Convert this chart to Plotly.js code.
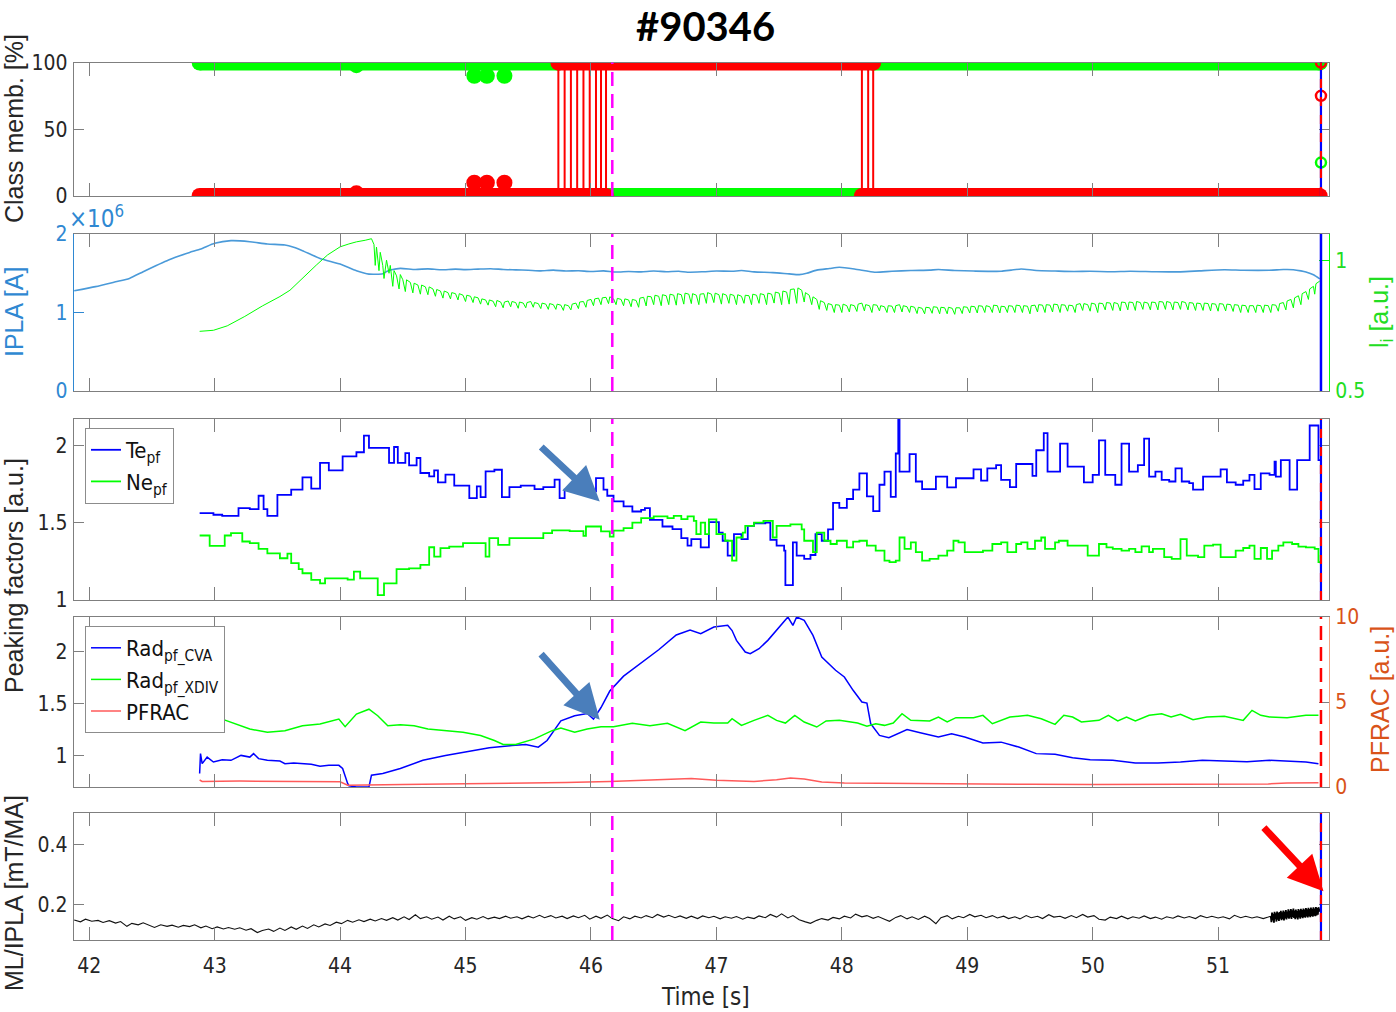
<!DOCTYPE html>
<html>
<head>
<meta charset="utf-8">
<script src="https://cdn.plot.ly/plotly-3.0.1.min.js"></script>
<style>
  html, body { margin: 0; padding: 0; background: #ffffff; }
  #chart { width: 1396px; height: 1012px; }
</style>
</head>
<body>
<div id="chart"></div>
<script>
// ---------------- Shot #90346 : time traces ----------------
const timeTicks = [42, 43, 44, 45, 46, 47, 48, 49, 50, 51];
const timeTickText = ['42', '43', '44', '45', '46', '47', '48', '49', '50', '51'];
const timeRange = [41.876, 51.884];
const markTime = 46.17;      // magenta dashed marker
const endTime = 51.82;       // end of the analysed window

// Class membership [%]: band segments (start, end, level)
const greenSegments = [[42.88, 45.74, 100], [46.12, 48.16, 0], [48.25, 51.81, 100]];
const redSegments = [[42.88, 46.12, 0], [45.74, 48.25, 100], [48.16, 51.81, 0]];
const greenBlobs = [[44.13, 98], [45.07, 90], [45.17, 90], [45.31, 90]];
const redBlobs = [[44.13, 2], [45.07, 10], [45.17, 10], [45.31, 10]];
const redSwitchTimes = [45.74, 45.79, 45.84, 45.89, 45.94, 45.99, 46.04, 46.08, 46.12, 48.16, 48.21, 48.25, 51.82];
const redEndPoints = [[51.82, 100], [51.82, 75]];
const greenEndPoints = [[51.82, 25]];

// Plasma current IPLA [A]
const iplaPts = [[41.88,1.277e6],[42.05,1.33e6],[42.21,1.391e6],[42.32,1.434e6],[42.43,1.52e6],[42.53,1.596e6],[42.62,1.66e6],[42.71,1.715e6],[42.80,1.765e6],[42.89,1.809e6],[43.00,1.881e6],[43.13,1.915e6],[43.28,1.902e6],[43.42,1.872e6],[43.56,1.860e6],[43.63,1.83e6],[43.70,1.787e6],[43.84,1.689e6],[44.00,1.617e6],[44.13,1.532e6],[44.23,1.489e6],[44.34,1.494e6],[44.38,1.53e6],[44.41,1.545e6],[44.48,1.562e6],[44.60,1.548e6],[44.70,1.556e6],[44.80,1.545e6],[44.92,1.552e6],[45.00,1.546e6],[45.10,1.553e6],[45.20,1.558e6],[45.30,1.548e6],[45.40,1.543e6],[45.50,1.538e6],[45.60,1.530e6],[45.70,1.540e6],[45.80,1.528e6],[45.90,1.532e6],[46.00,1.522e6],[46.10,1.530e6],[46.20,1.515e6],[46.30,1.522e6],[46.40,1.518e6],[46.50,1.528e6],[46.60,1.520e6],[46.70,1.525e6],[46.77,1.513e6],[46.90,1.520e6],[47.00,1.528e6],[47.125,1.525e6],[47.20,1.535e6],[47.30,1.518e6],[47.45,1.508e6],[47.58,1.492e6],[47.66,1.483e6],[47.72,1.500e6],[47.80,1.540e6],[47.90,1.560e6],[47.98,1.576e6],[48.10,1.555e6],[48.20,1.528e6],[48.27,1.513e6],[48.40,1.525e6],[48.55,1.535e6],[48.70,1.540e6],[48.77,1.547e6],[48.90,1.535e6],[49.05,1.528e6],[49.27,1.525e6],[49.35,1.540e6],[49.43,1.555e6],[49.55,1.535e6],[49.70,1.528e6],[49.85,1.522e6],[49.98,1.525e6],[50.15,1.520e6],[50.30,1.526e6],[50.50,1.520e6],[50.70,1.518e6],[50.85,1.530e6],[51.05,1.545e6],[51.20,1.538e6],[51.41,1.538e6],[51.52,1.547e6],[51.60,1.545e6],[51.66,1.530e6],[51.70,1.515e6],[51.76,1.48e6],[51.81,1.428e6]];

// Internal inductance li [a.u.]
const liPts = [[42.88,.728],[42.99,.732],[43.10,.749],[43.24,.785],[43.38,.825],[43.52,.861],[43.60,.885],[43.67,.918],[43.74,.95],[43.81,.981],[43.90,1.02],[44.00,1.051],[44.07,1.062],[44.13,1.07],[44.20,1.076],[44.25,1.082],
[44.27,1.06],[44.28,0.98],[44.29,1.05],[44.31,0.96],[44.32,1.03],[44.34,0.98],[44.35,0.93],[44.37,1.00],[44.39,0.95],[44.40,0.98],[44.42,0.90],[44.43,0.96],[44.45,0.94],[44.47,0.89],[44.48,0.945],[44.50,0.925],[44.52,0.88],[44.53,0.925],[44.56,0.915],[44.58,0.875],[44.59,0.912],[44.62,0.905],[44.64,0.87],[44.65,0.905],[44.68,0.898],[44.70,0.868],[44.71,0.898],[44.74,0.89],[44.76,0.862],[44.77,0.888],[44.80,0.882],[44.82,0.855],[44.83,0.882],[44.86,0.876],[44.88,0.852],[44.89,0.876],[44.92,0.872],[44.94,0.848],[44.95,0.872],[44.98,0.866],[45.00,0.842],[45.01,0.866],[45.04,0.862],[45.06,0.838],[45.07,0.860],[45.10,0.856],[45.12,0.832],[45.13,0.852],[45.16,0.848],[45.18,0.828],[45.19,0.848],[45.22,0.843],[45.24,0.822],[45.25,0.846],[45.28,0.840],[45.30,0.818],[45.31,0.840],[45.34,0.844],[45.36,0.822],[45.37,0.842],[45.40,0.838],[45.42,0.816],[45.43,0.840],[45.46,0.836],[45.48,0.818],[45.49,0.838],[45.52,0.842],[45.54,0.820],[45.55,0.838],[45.58,0.834],[45.60,0.815],[45.61,0.836],[45.64,0.832],[45.66,0.812],[45.67,0.834],[45.70,0.830],[45.72,0.812],[45.73,0.832],[45.76,0.828],[45.78,0.808],[45.79,0.83],[45.82,0.826],[45.84,0.81],[45.85,0.832],[45.88,0.836],[45.90,0.815],[45.91,0.84],[45.94,0.842],[45.96,0.82],[45.97,0.846],[46.00,0.85],[46.02,0.826],[46.03,0.852],[46.06,0.855],[46.08,0.83],[46.09,0.856],[46.12,0.858],[46.14,0.834],[46.15,0.86],[46.18,0.852],[46.20,0.83],[46.21,0.854],[46.24,0.85],[46.26,0.826],[46.27,0.852],[46.30,0.848],[46.32,0.822],[46.33,0.85],[46.36,0.846],[46.38,0.82],[46.39,0.855],[46.42,0.858],[46.44,0.825],[46.45,0.862],[46.48,0.86],[46.50,0.83],[46.51,0.866],[46.54,0.862],[46.56,0.826],[46.57,0.868],[46.60,0.864],[46.62,0.83],[46.63,0.87],[46.66,0.866],[46.68,0.828],[46.69,0.872],[46.72,0.868],[46.74,0.832],[46.75,0.874],[46.78,0.87],[46.80,0.834],[46.81,0.872],[46.84,0.866],[46.86,0.83],[46.87,0.87],[46.90,0.872],[46.92,0.835],[46.93,0.876],[46.96,0.87],[46.98,0.838],[46.99,0.874],[47.02,0.868],[47.04,0.832],[47.05,0.872],[47.08,0.866],[47.10,0.835],[47.11,0.87],[47.14,0.865],[47.16,0.83],[47.17,0.868],[47.20,0.862],[47.22,0.835],[47.23,0.866],[47.26,0.864],[47.28,0.83],[47.29,0.87],[47.32,0.866],[47.34,0.835],[47.35,0.872],[47.38,0.868],[47.40,0.83],[47.41,0.874],[47.44,0.87],[47.46,0.836],[47.47,0.878],[47.50,0.874],[47.52,0.83],[47.53,0.882],[47.56,0.878],[47.58,0.832],[47.59,0.888],[47.62,0.89],[47.64,0.835],[47.65,0.894],[47.68,0.885],[47.70,0.84],[47.71,0.876],[47.74,0.866],[47.76,0.83],[47.77,0.86],[47.80,0.85],[47.82,0.812],[47.83,0.845],[47.86,0.838],[47.88,0.808],[47.89,0.834],[47.92,0.83],[47.94,0.80],[47.95,0.83],[47.98,0.828],[48.00,0.80],[48.01,0.832],[48.04,0.826],[48.06,0.802],[48.07,0.83],[48.10,0.826],[48.12,0.804],[48.13,0.832],[48.16,0.836],[48.18,0.806],[48.19,0.83],[48.22,0.826],[48.24,0.80],[48.25,0.83],[48.28,0.828],[48.30,0.806],[48.31,0.826],[48.34,0.822],[48.36,0.80],[48.37,0.826],[48.40,0.824],[48.42,0.80],[48.43,0.826],[48.46,0.83],[48.48,0.802],[48.49,0.826],[48.52,0.822],[48.54,0.80],[48.55,0.824],[48.58,0.82],[48.60,0.796],[48.61,0.82],[48.64,0.816],[48.66,0.795],[48.67,0.82],[48.70,0.818],[48.72,0.797],[48.73,0.822],[48.76,0.82],[48.78,0.795],[48.79,0.82],[48.82,0.818],[48.84,0.795],[48.85,0.82],[48.88,0.816],[48.90,0.793],[48.91,0.818],[48.94,0.818],[48.96,0.796],[48.97,0.822],[49.00,0.82],[49.02,0.798],[49.03,0.824],[49.06,0.822],[49.08,0.798],[49.09,0.826],[49.12,0.824],[49.14,0.80],[49.15,0.826],[49.18,0.822],[49.20,0.80],[49.21,0.828],[49.24,0.826],[49.26,0.798],[49.27,0.824],[49.30,0.822],[49.32,0.80],[49.33,0.826],[49.36,0.824],[49.38,0.80],[49.39,0.828],[49.42,0.826],[49.44,0.80],[49.45,0.826],[49.48,0.824],[49.50,0.795],[49.51,0.826],[49.54,0.828],[49.56,0.802],[49.57,0.83],[49.60,0.828],[49.62,0.80],[49.63,0.83],[49.66,0.828],[49.68,0.802],[49.69,0.832],[49.72,0.83],[49.74,0.80],[49.75,0.83],[49.78,0.828],[49.80,0.805],[49.81,0.828],[49.84,0.826],[49.86,0.80],[49.87,0.83],[49.90,0.834],[49.92,0.808],[49.93,0.834],[49.96,0.83],[49.98,0.805],[49.99,0.836],[50.02,0.832],[50.04,0.80],[50.05,0.836],[50.08,0.834],[50.10,0.81],[50.11,0.838],[50.14,0.836],[50.16,0.808],[50.17,0.838],[50.20,0.834],[50.22,0.806],[50.23,0.84],[50.26,0.838],[50.28,0.81],[50.29,0.84],[50.32,0.838],[50.34,0.808],[50.35,0.842],[50.38,0.838],[50.40,0.812],[50.41,0.84],[50.44,0.836],[50.46,0.81],[50.47,0.84],[50.50,0.838],[50.52,0.81],[50.53,0.842],[50.56,0.84],[50.58,0.812],[50.59,0.842],[50.62,0.838],[50.64,0.81],[50.65,0.84],[50.68,0.838],[50.70,0.812],[50.71,0.842],[50.74,0.838],[50.76,0.81],[50.77,0.838],[50.80,0.836],[50.82,0.808],[50.83,0.836],[50.86,0.834],[50.88,0.808],[50.89,0.836],[50.92,0.834],[50.94,0.806],[50.95,0.834],[50.98,0.832],[51.00,0.805],[51.01,0.834],[51.04,0.832],[51.06,0.806],[51.07,0.832],[51.10,0.83],[51.12,0.804],[51.13,0.83],[51.16,0.828],[51.18,0.80],[51.19,0.828],[51.22,0.826],[51.24,0.80],[51.25,0.826],[51.28,0.826],[51.30,0.80],[51.31,0.828],[51.34,0.826],[51.36,0.80],[51.37,0.828],[51.40,0.826],[51.42,0.80],[51.43,0.83],[51.46,0.828],[51.48,0.805],[51.49,0.834],[51.52,0.838],[51.54,0.81],[51.55,0.844],[51.58,0.85],[51.60,0.818],[51.61,0.856],[51.64,0.864],[51.66,0.83],[51.67,0.872],[51.70,0.88],[51.72,0.85],[51.73,0.89],[51.76,0.90],[51.77,0.87],[51.78,0.91],[51.80,0.918],[51.81,0.92]];

// Peaking factors: electron temperature and density
const tePts = [[42.88,1.562],[42.99,1.551],[43.06,1.544],[43.19,1.594],[43.28,1.587],[43.35,1.674],[43.39,1.587],[43.42,1.544],[43.50,1.680],[43.61,1.713],[43.70,1.793],[43.77,1.720],[43.84,1.886],[43.91,1.838],[44.02,1.929],[44.13,1.955],[44.19,2.063],[44.23,1.983],[44.39,1.886],[44.43,1.989],[44.46,1.886],[44.52,1.950],[44.55,1.870],[44.61,1.918],[44.64,1.821],[44.71,1.799],[44.75,1.838],[44.78,1.760],[44.84,1.810],[44.91,1.739],[45.03,1.659],[45.09,1.734],[45.12,1.665],[45.16,1.832],[45.23,1.842],[45.29,1.665],[45.35,1.730],[45.44,1.739],[45.55,1.717],[45.62,1.730],[45.71,1.778],[45.75,1.659],[45.79,1.713],[45.90,1.710],[45.97,1.702],[46.04,1.788],[46.10,1.713],[46.13,1.674],[46.18,1.637],[46.26,1.605],[46.33,1.572],[46.40,1.583],[46.43,1.594],[46.47,1.518],[46.57,1.475],[46.65,1.458],[46.72,1.400],[46.77,1.351],[46.80,1.394],[46.875,1.340],[46.94,1.504],[47.02,1.436],[47.05,1.383],[47.09,1.287],[47.14,1.426],[47.20,1.394],[47.25,1.479],[47.30,1.496],[47.39,1.500],[47.43,1.389],[47.48,1.351],[47.54,1.319],[47.55,1.096],[47.61,1.372],[47.64,1.287],[47.70,1.266],[47.75,1.291],[47.79,1.426],[47.84,1.383],[47.89,1.457],[47.93,1.628],[47.98,1.596],[48.04,1.653],[48.09,1.713],[48.14,1.819],[48.20,1.670],[48.25,1.574],[48.30,1.745],[48.34,1.830],[48.39,1.666],[48.43,1.947],[48.45,2.170],[48.46,1.830],[48.54,1.943],[48.59,1.766],[48.64,1.717],[48.75,1.798],[48.84,1.728],[48.91,1.787],[49.05,1.845],[49.11,1.772],[49.16,1.851],[49.23,1.872],[49.27,1.777],[49.34,1.730],[49.39,1.879],[49.52,1.802],[49.55,1.968],[49.61,2.079],[49.64,1.830],[49.74,2.011],[49.80,1.862],[49.93,1.760],[50.00,1.809],[50.05,2.032],[50.10,1.809],[50.18,1.745],[50.23,2.011],[50.29,1.830],[50.36,1.872],[50.41,2.043],[50.45,1.798],[50.50,1.830],[50.55,1.777],[50.61,1.766],[50.66,1.851],[50.71,1.766],[50.77,1.755],[50.80,1.713],[50.88,1.798],[51.02,1.845],[51.07,1.760],[51.14,1.745],[51.20,1.772],[51.25,1.809],[51.29,1.717],[51.34,1.819],[51.41,1.809],[51.45,1.894],[51.46,1.798],[51.50,1.904],[51.57,1.713],[51.63,1.904],[51.73,2.128],[51.80,1.904],[51.82,1.904]];

const nePts = [[42.88,1.417],[42.96,1.350],[43.08,1.417],[43.13,1.432],[43.22,1.378],[43.28,1.367],[43.35,1.330],[43.42,1.302],[43.52,1.270],[43.58,1.300],[43.61,1.238],[43.67,1.200],[43.70,1.173],[43.77,1.130],[43.84,1.108],[43.88,1.140],[44.06,1.132],[44.11,1.184],[44.16,1.140],[44.30,1.032],[44.35,1.108],[44.45,1.199],[44.55,1.205],[44.64,1.227],[44.71,1.341],[44.75,1.281],[44.80,1.335],[44.87,1.345],[44.98,1.367],[45.16,1.281],[45.19,1.400],[45.26,1.356],[45.35,1.400],[45.62,1.432],[45.69,1.450],[45.83,1.445],[45.94,1.415],[45.96,1.475],[46.08,1.443],[46.15,1.410],[46.18,1.449],[46.26,1.464],[46.33,1.500],[46.40,1.529],[46.50,1.540],[46.61,1.529],[46.66,1.544],[46.72,1.523],[46.77,1.540],[46.82,1.511],[46.84,1.426],[46.875,1.500],[46.91,1.426],[46.94,1.521],[47.00,1.426],[47.07,1.383],[47.125,1.255],[47.16,1.404],[47.21,1.436],[47.23,1.479],[47.30,1.500],[47.375,1.511],[47.45,1.404],[47.48,1.479],[47.59,1.489],[47.68,1.457],[47.70,1.383],[47.77,1.309],[47.80,1.436],[47.86,1.383],[47.91,1.362],[47.96,1.383],[48.04,1.340],[48.09,1.377],[48.14,1.383],[48.20,1.351],[48.27,1.319],[48.34,1.255],[48.38,1.245],[48.43,1.255],[48.46,1.404],[48.50,1.330],[48.55,1.372],[48.59,1.309],[48.64,1.255],[48.70,1.266],[48.77,1.287],[48.84,1.319],[48.89,1.383],[48.93,1.372],[48.98,1.309],[49.125,1.319],[49.20,1.362],[49.27,1.372],[49.32,1.309],[49.39,1.362],[49.43,1.372],[49.48,1.330],[49.54,1.383],[49.59,1.404],[49.62,1.330],[49.70,1.372],[49.73,1.383],[49.80,1.351],[49.96,1.287],[50.05,1.362],[50.11,1.340],[50.16,1.330],[50.23,1.319],[50.29,1.330],[50.34,1.309],[50.39,1.347],[50.45,1.309],[50.48,1.330],[50.57,1.277],[50.63,1.266],[50.70,1.394],[50.75,1.287],[50.84,1.277],[50.89,1.351],[50.96,1.358],[51.02,1.277],[51.14,1.319],[51.20,1.336],[51.25,1.351],[51.29,1.266],[51.34,1.336],[51.39,1.266],[51.43,1.319],[51.48,1.351],[51.52,1.372],[51.59,1.362],[51.64,1.345],[51.70,1.340],[51.77,1.330],[51.80,1.245],[51.82,1.245]];

// Radiation peaking factors and radiated power fraction
const radCvaPts = [[42.88,0.829],[42.887,1.02],[42.90,0.924],[42.94,0.987],[42.99,0.94],[43.06,0.962],[43.13,0.956],[43.21,1.003],[43.28,0.987],[43.31,1.02],[43.35,0.972],[43.42,0.956],[43.52,0.949],[43.56,0.924],[43.63,0.930],[43.70,0.924],[43.77,0.918],[43.84,0.899],[43.91,0.908],[43.99,0.908],[44.02,0.877],[44.06,0.734],[44.07,0.712],[44.13,0.70],[44.23,0.70],[44.25,0.813],[44.34,0.829],[44.48,0.877],[44.66,0.956],[44.84,1.003],[45.01,1.035],[45.19,1.076],[45.37,1.098],[45.48,1.108],[45.58,1.082],[45.65,1.146],[45.76,1.335],[45.87,1.383],[45.97,1.405],[46.02,1.351],[46.08,1.462],[46.15,1.62],[46.26,1.763],[46.40,1.889],[46.54,2.016],[46.68,2.158],[46.79,2.206],[46.875,2.17],[46.98,2.234],[47.09,2.25],[47.125,2.20],[47.16,2.106],[47.23,1.994],[47.27,1.978],[47.34,2.026],[47.41,2.106],[47.48,2.20],[47.54,2.28],[47.57,2.33],[47.61,2.25],[47.64,2.33],[47.70,2.298],[47.77,2.154],[47.84,1.946],[47.95,1.819],[48.02,1.755],[48.09,1.627],[48.16,1.515],[48.20,1.505],[48.23,1.307],[48.30,1.195],[48.375,1.173],[48.45,1.211],[48.52,1.25],[48.625,1.22],[48.77,1.179],[48.875,1.211],[48.98,1.179],[49.125,1.122],[49.27,1.13],[49.41,1.083],[49.55,1.02],[49.70,1.013],[49.84,0.981],[49.98,0.962],[50.16,0.956],[50.34,0.93],[50.52,0.93],[50.70,0.94],[50.875,0.956],[51.05,0.95],[51.23,0.943],[51.41,0.956],[51.59,0.95],[51.70,0.94],[51.80,0.924]];

const radXdivPts = [[42.88,1.399],[42.96,1.383],[43.06,1.351],[43.17,1.304],[43.28,1.256],[43.42,1.225],[43.56,1.240],[43.70,1.288],[43.84,1.304],[43.99,1.351],[44.04,1.278],[44.13,1.399],[44.23,1.446],[44.30,1.383],[44.38,1.288],[44.48,1.297],[44.59,1.288],[44.70,1.256],[44.84,1.24],[44.98,1.225],[45.12,1.193],[45.23,1.146],[45.30,1.108],[45.40,1.108],[45.55,1.161],[45.69,1.24],[45.76,1.266],[45.87,1.225],[45.97,1.256],[46.08,1.278],[46.18,1.278],[46.33,1.31],[46.47,1.288],[46.61,1.31],[46.75,1.24],[46.875,1.323],[46.98,1.313],[47.09,1.313],[47.125,1.355],[47.20,1.291],[47.30,1.339],[47.41,1.387],[47.48,1.339],[47.55,1.313],[47.625,1.387],[47.70,1.323],[47.80,1.275],[47.875,1.333],[47.98,1.339],[48.125,1.313],[48.20,1.282],[48.27,1.307],[48.34,1.291],[48.41,1.313],[48.48,1.403],[48.55,1.339],[48.70,1.333],[48.77,1.371],[48.84,1.323],[48.91,1.365],[49.05,1.365],[49.125,1.387],[49.20,1.307],[49.34,1.371],[49.48,1.387],[49.59,1.355],[49.70,1.301],[49.77,1.387],[49.84,1.371],[49.91,1.323],[50.05,1.339],[50.125,1.387],[50.20,1.333],[50.27,1.371],[50.34,1.333],[50.45,1.387],[50.55,1.403],[50.625,1.371],[50.70,1.397],[50.80,1.345],[50.91,1.371],[51.05,1.378],[51.20,1.339],[51.27,1.435],[51.34,1.387],[51.41,1.371],[51.55,1.365],[51.70,1.387],[51.80,1.387]];

const pfracPts = [[42.88,0.41],[42.90,0.33],[43.20,0.35],[43.60,0.33],[44.00,0.31],[44.06,0.10],[44.27,0.14],[44.50,0.15],[45.00,0.19],[45.40,0.21],[45.80,0.26],[46.15,0.33],[46.40,0.38],[46.60,0.45],[46.80,0.50],[47.00,0.40],[47.30,0.33],[47.48,0.43],[47.59,0.53],[47.70,0.47],[47.84,0.30],[48.02,0.24],[48.50,0.20],[49.00,0.16],[49.50,0.16],[50.00,0.14],[50.50,0.14],[51.00,0.15],[51.40,0.18],[51.55,0.24],[51.80,0.25]];

// Locked-mode amplitude normalised to plasma current [mT/MA]
const mlPts = [[41.88,.147],[41.93,.141],[41.97,.150],[42.02,.143],[42.07,.146],[42.11,.139],[42.16,.145],[42.21,.137],[42.25,.142],[42.30,.126],[42.34,.136],[42.39,.131],[42.43,.138],[42.48,.129],[42.52,.122],[42.57,.131],[42.62,.126],[42.66,.130],[42.71,.123],[42.75,.129],[42.80,.125],[42.84,.131],[42.89,.121],[42.93,.127],[42.98,.118],[43.02,.124],[43.07,.117],[43.11,.122],[43.16,.116],[43.20,.121],[43.25,.113],[43.29,.118],[43.34,.105],[43.38,.112],[43.43,.117],[43.47,.109],[43.52,.120],[43.56,.112],[43.61,.124],[43.65,.116],[43.70,.127],[43.74,.119],[43.79,.131],[43.83,.124],[43.88,.134],[43.92,.129],[43.97,.140],[44.01,.135],[44.06,.146],[44.10,.140],[44.15,.148],[44.19,.142],[44.24,.150],[44.28,.144],[44.33,.152],[44.37,.146],[44.42,.155],[44.46,.147],[44.51,.158],[44.55,.149],[44.60,.165],[44.64,.152],[44.69,.158],[44.73,.150],[44.78,.157],[44.82,.147],[44.87,.160],[44.91,.151],[44.96,.158],[45.00,.146],[45.05,.155],[45.09,.150],[45.14,.159],[45.18,.151],[45.23,.157],[45.27,.152],[45.32,.160],[45.36,.153],[45.41,.158],[45.45,.151],[45.50,.160],[45.54,.154],[45.59,.163],[45.63,.155],[45.68,.162],[45.72,.154],[45.77,.160],[45.81,.152],[45.86,.161],[45.90,.155],[45.95,.163],[45.99,.150],[46.04,.160],[46.08,.153],[46.13,.164],[46.17,.152],[46.22,.145],[46.26,.158],[46.31,.151],[46.35,.160],[46.40,.154],[46.44,.162],[46.49,.155],[46.53,.166],[46.58,.157],[46.62,.163],[46.67,.155],[46.71,.161],[46.76,.153],[46.80,.160],[46.85,.152],[46.89,.161],[46.94,.155],[46.98,.160],[47.03,.151],[47.07,.158],[47.12,.153],[47.16,.159],[47.21,.150],[47.25,.157],[47.30,.152],[47.34,.161],[47.39,.155],[47.43,.166],[47.48,.157],[47.52,.168],[47.57,.154],[47.61,.162],[47.66,.148],[47.71,.141],[47.75,.136],[47.80,.146],[47.84,.152],[47.89,.147],[47.93,.156],[47.98,.151],[48.02,.160],[48.07,.154],[48.11,.167],[48.16,.158],[48.20,.162],[48.25,.153],[48.29,.159],[48.34,.150],[48.38,.143],[48.43,.156],[48.47,.162],[48.52,.151],[48.56,.158],[48.61,.149],[48.66,.160],[48.70,.152],[48.75,.135],[48.79,.155],[48.84,.162],[48.88,.151],[48.93,.160],[48.97,.155],[49.02,.166],[49.06,.158],[49.11,.163],[49.15,.155],[49.20,.162],[49.24,.154],[49.29,.160],[49.33,.152],[49.38,.158],[49.42,.151],[49.47,.162],[49.51,.155],[49.56,.160],[49.60,.152],[49.65,.165],[49.69,.157],[49.74,.160],[49.78,.153],[49.83,.162],[49.87,.155],[49.92,.166],[49.96,.157],[50.01,.162],[50.05,.150],[50.10,.147],[50.14,.157],[50.19,.152],[50.23,.160],[50.28,.151],[50.32,.158],[50.37,.153],[50.41,.161],[50.46,.152],[50.50,.157],[50.55,.150],[50.59,.158],[50.64,.153],[50.68,.161],[50.73,.154],[50.77,.159],[50.82,.152],[50.86,.162],[50.91,.155],[50.95,.160],[51.00,.154],[51.04,.158],[51.09,.151],[51.13,.163],[51.18,.155],[51.22,.160],[51.27,.154],[51.31,.158],[51.36,.152],[51.40,.157],[51.42,.160]];
// fast-sampled tail of the same signal
const mlBurstPts = [[51.42,.160],[51.425,.140],[51.43,.172],[51.435,.146],[51.44,.168],[51.445,.138],[51.45,.175],[51.455,.150],[51.46,.170],[51.465,.142],[51.47,.176],[51.475,.148],[51.48,.171],[51.485,.144],[51.49,.174],[51.495,.152],[51.50,.178],[51.505,.147],[51.51,.173],[51.515,.150],[51.52,.179],[51.525,.146],[51.53,.175],[51.535,.153],[51.54,.181],[51.545,.149],[51.55,.176],[51.555,.155],[51.56,.183],[51.565,.152],[51.57,.178],[51.575,.156],[51.58,.184],[51.585,.151],[51.59,.180],[51.595,.158],[51.60,.186],[51.605,.154],[51.61,.179],[51.615,.150],[51.62,.182],[51.625,.155],[51.63,.177],[51.635,.149],[51.64,.184],[51.645,.156],[51.65,.180],[51.655,.152],[51.66,.185],[51.665,.157],[51.67,.181],[51.675,.153],[51.68,.186],[51.685,.158],[51.69,.182],[51.695,.155],[51.70,.187],[51.705,.159],[51.71,.183],[51.715,.156],[51.72,.188],[51.725,.160],[51.73,.184],[51.735,.157],[51.74,.189],[51.745,.161],[51.75,.185],[51.755,.158],[51.76,.190],[51.765,.162],[51.77,.186],[51.775,.160],[51.78,.191],[51.785,.163],[51.79,.187],[51.795,.165],[51.80,.190],[51.81,.175]];

// ---------------- helpers ----------------
const W = 1396, H = 1012;
const px = v => v / W;
const py = v => 1 - v / H;
const xs = pts => pts.map(p => p[0]);
const ys = pts => pts.map(p => p[1]);

const NARROW = '"Liberation Sans Narrow", "DejaVu Sans Condensed", "Arial Narrow", "Liberation Sans", sans-serif';
const SANS = '"Liberation Sans", Arial, sans-serif';
const AXIS_GREY = '#7f7f7f';
const TEXT_GREY = '#262626';
const IPLA_BLUE = '#2f88d2';
const LI_GREEN = '#00ff00';
const PFRAC_ORANGE = '#d95319';
const BAND = 16;

const segLine = segs => {
  const x = [], y = [];
  segs.forEach((s, i) => { if (i) { x.push(null); y.push(null); } x.push(s[0], s[1]); y.push(s[2], s[2]); });
  return { x, y };
};

// ---------------- traces ----------------
const traces = [];
const band = (segs, color) => {
  const d = segLine(segs);
  traces.push({ x: d.x, y: d.y, xaxis: 'x', yaxis: 'y', mode: 'lines+markers', connectgaps: false,
    line: { color, width: BAND }, marker: { color, size: BAND }, showlegend: false, hoverinfo: 'skip' });
};
band(greenSegments, LI_GREEN);
traces.push({ x: xs(greenBlobs), y: ys(greenBlobs), xaxis: 'x', yaxis: 'y', mode: 'markers',
  marker: { color: LI_GREEN, size: BAND }, showlegend: false });
band(redSegments, '#ff0000');
traces.push({ x: xs(redBlobs), y: ys(redBlobs), xaxis: 'x', yaxis: 'y', mode: 'markers',
  marker: { color: '#ff0000', size: BAND }, showlegend: false });
(() => {
  const x = [], y = [];
  redSwitchTimes.forEach(t => { x.push(t, t, null); y.push(0, 100, null); });
  traces.push({ x, y, xaxis: 'x', yaxis: 'y', mode: 'lines', line: { color: '#ff0000', width: 2 },
    showlegend: false, hoverinfo: 'skip' });
})();
traces.push({ x: xs(greenEndPoints), y: ys(greenEndPoints), xaxis: 'x', yaxis: 'y', mode: 'markers',
  marker: { symbol: 'circle-open', color: LI_GREEN, size: 10, line: { width: 2.5 } }, showlegend: false });
traces.push({ x: xs(redEndPoints), y: ys(redEndPoints), xaxis: 'x', yaxis: 'y', mode: 'markers',
  marker: { symbol: 'circle-open', color: '#ff0000', size: 10, line: { width: 2.5 } }, showlegend: false });

// panel 2
traces.push({ x: xs(iplaPts), y: ys(iplaPts), xaxis: 'x2', yaxis: 'y2', mode: 'lines',
  line: { color: '#4a9ad9', width: 1.6, shape: 'spline', smoothing: 0.6 }, showlegend: false });
traces.push({ x: xs(liPts), y: ys(liPts), xaxis: 'x2', yaxis: 'y3', mode: 'lines',
  line: { color: LI_GREEN, width: 1 }, showlegend: false });

// panel 3
traces.push({ x: xs(tePts), y: ys(tePts), xaxis: 'x3', yaxis: 'y4', mode: 'lines', name: 'Te<sub>pf</sub>',
  line: { color: '#0000ff', width: 1.8, shape: 'hv' }, legend: 'legend' });
traces.push({ x: xs(nePts), y: ys(nePts), xaxis: 'x3', yaxis: 'y4', mode: 'lines', name: 'Ne<sub>pf</sub>',
  line: { color: LI_GREEN, width: 1.8, shape: 'hv' }, legend: 'legend' });

// panel 4
traces.push({ x: xs(radCvaPts), y: ys(radCvaPts), xaxis: 'x4', yaxis: 'y5', mode: 'lines', name: 'Rad<sub>pf_CVA</sub>',
  line: { color: '#0000ff', width: 1.5 }, legend: 'legend2' });
traces.push({ x: xs(radXdivPts), y: ys(radXdivPts), xaxis: 'x4', yaxis: 'y5', mode: 'lines', name: 'Rad<sub>pf_XDIV</sub>',
  line: { color: LI_GREEN, width: 1.5 }, legend: 'legend2' });
traces.push({ x: xs(pfracPts), y: ys(pfracPts), xaxis: 'x4', yaxis: 'y6', mode: 'lines', name: 'PFRAC',
  line: { color: '#ff5a5a', width: 1.5 }, legend: 'legend2' });

// panel 5
traces.push({ x: xs(mlPts), y: ys(mlPts), xaxis: 'x5', yaxis: 'y7', mode: 'lines',
  line: { color: '#111111', width: 1.1 }, showlegend: false });
traces.push({ x: xs(mlBurstPts), y: ys(mlBurstPts), xaxis: 'x5', yaxis: 'y7', mode: 'lines',
  line: { color: '#000000', width: 1.8 }, showlegend: false });

// ---------------- axes ----------------
const xDom = [px(73.7), px(1329)];
const panels = [
  { x: 'x', y: 'y', top: 62.5, bottom: 196 },
  { x: 'x2', y: 'y2', top: 234, bottom: 391 },
  { x: 'x3', y: 'y4', top: 419, bottom: 600 },
  { x: 'x4', y: 'y5', top: 617, bottom: 787 },
  { x: 'x5', y: 'y7', top: 813, bottom: 940 }
];
const dom = p => [py(p.bottom), py(p.top)];
const tickFont = c => ({ family: NARROW, size: 21, color: c || TEXT_GREY });

const xAxis = (anchor, labels) => ({
  domain: xDom, anchor, range: timeRange, showline: true, linecolor: AXIS_GREY, linewidth: 1,
  mirror: 'ticks', ticks: 'inside', ticklen: 13, tickcolor: AXIS_GREY, tickwidth: 1,
  tickvals: timeTicks, ticktext: timeTickText, showticklabels: labels, tickfont: tickFont(),
  showgrid: false, zeroline: false, ticklabelstandoff: 7
});
const yAxis = (p, range, tickvals, ticktext, opts) => Object.assign({
  domain: dom(p), anchor: p.x, range, showline: true, linecolor: AXIS_GREY, linewidth: 1,
  mirror: 'ticks', ticks: 'inside', ticklen: 10, tickcolor: AXIS_GREY, tickwidth: 1,
  tickvals, ticktext, tickfont: tickFont(), showgrid: false, zeroline: false, ticklabelstandoff: 1
}, opts || {});

const layout = {
  width: W, height: H, paper_bgcolor: '#ffffff', plot_bgcolor: 'rgba(0,0,0,0)',
  margin: { l: 0, r: 0, t: 0, b: 0 },
  title: { text: '' },
  xaxis: xAxis('y', false),
  xaxis2: xAxis('y2', false),
  xaxis3: xAxis('y4', false),
  xaxis4: xAxis('y5', false),
  xaxis5: xAxis('y7', true),
  yaxis: yAxis(panels[0], [0, 100], [0, 50, 100], ['0', '50', '100']),
  yaxis2: yAxis(panels[1], [0, 2e6], [0, 1e6, 2e6], ['0', '1', '2'],
    { mirror: false, linecolor: IPLA_BLUE, tickcolor: IPLA_BLUE, tickfont: tickFont(IPLA_BLUE) }),
  yaxis3: yAxis(panels[1], [0.5, 1.1], [0.5, 1], ['0.5', '1'],
    { overlaying: 'y2', side: 'right', mirror: false, linecolor: LI_GREEN, tickcolor: LI_GREEN, tickfont: tickFont('#22dd22') }),
  yaxis4: yAxis(panels[2], [1, 2.17], [1, 1.5, 2], ['1', '1.5', '2']),
  yaxis5: yAxis(panels[3], [0.70, 2.33], [1, 1.5, 2], ['1', '1.5', '2'], { mirror: false }),
  yaxis6: yAxis(panels[3], [0, 10], [0, 5, 10], ['0', '5', '10'],
    { overlaying: 'y5', side: 'right', mirror: false, linecolor: '#f0a27f', tickcolor: AXIS_GREY, tickfont: tickFont(PFRAC_ORANGE) }),
  yaxis7: yAxis(panels[4], [0.08, 0.507], [0.2, 0.4], ['0.2', '0.4']),
  legend: {
    x: px(85), y: py(428), xanchor: 'left', yanchor: 'top', bgcolor: '#ffffff',
    bordercolor: '#8c8c8c', borderwidth: 1, font: { family: NARROW, size: 22, color: '#111' },
    tracegroupgap: 0, itemwidth: 30
  },
  legend2: {
    x: px(85), y: py(626), xanchor: 'left', yanchor: 'top', bgcolor: '#ffffff',
    bordercolor: '#8c8c8c', borderwidth: 1, font: { family: NARROW, size: 22, color: '#111' },
    tracegroupgap: 0, itemwidth: 30
  },
  shapes: [],
  annotations: []
};

// event markers drawn through every panel
panels.forEach((p, i) => {
  const yref = p.y + ' domain';
  layout.shapes.push({ type: 'line', xref: p.x, yref, x0: markTime, x1: markTime, y0: 0, y1: 1,
    line: { color: '#ff00ff', width: 2.5, dash: '14px,8px' } });
  if (i === 1) {
    layout.shapes.push({ type: 'line', xref: p.x, yref, x0: endTime, x1: endTime, y0: 0, y1: 1,
      line: { color: '#0000ff', width: 2.5 } });
  } else if (i === 3) {
    layout.shapes.push({ type: 'line', xref: p.x, yref, x0: endTime, x1: endTime, y0: 0, y1: 1,
      line: { color: '#ff0000', width: 2.5, dash: '14px,7px' } });
  } else {
    layout.shapes.push({ type: 'line', xref: p.x, yref, x0: endTime, x1: endTime, y0: 0, y1: 1,
      line: { color: '#0000ff', width: 2.2 } });
    layout.shapes.push({ type: 'line', xref: p.x, yref, x0: endTime, x1: endTime, y0: 0, y1: 1,
      line: { color: '#ff0000', width: 2.2, dash: '9px,9px' } });
  }
});

// text
const ann = (text, x, y, font, extra) => layout.annotations.push(Object.assign({
  text, x: px(x), y: py(y), xref: 'paper', yref: 'paper', showarrow: false,
  xanchor: 'center', yanchor: 'middle', font
}, extra || {}));
const titleFont = c => ({ family: SANS, size: 25, color: c || TEXT_GREY });

ann('<b>#90346</b>', 705, 26, { family: 'Lato, "Open Sans", sans-serif', size: 40, color: '#000' });
ann('Class memb. [%]', 14, 129, titleFont(), { textangle: -90 });
ann('IPLA [A]', 14, 312, titleFont(IPLA_BLUE), { textangle: -90 });
ann('Peaking factors [a.u.]', 14, 576, titleFont(), { textangle: -90 });
ann('ML/IPLA [mT/MA]', 14, 893, titleFont(), { textangle: -90 });
ann('l<sub>i</sub> [a.u.]', 1381, 312, titleFont('#22dd22'), { textangle: -90 });
ann('PFRAC [a.u.]', 1380, 700, titleFont(PFRAC_ORANGE), { textangle: -90 });
ann('Time [s]', 705, 997, { family: NARROW, size: 24, color: TEXT_GREY });
ann('\u00d710<sup>6</sup>', 96, 217, { family: NARROW, size: 24, color: IPLA_BLUE });

// arrows pointing at the change of regime and at the end of the window
const arrow = (xref, yref, x, y, ax, ay, color) => layout.annotations.push({
  xref, yref, x, y, ax, ay, axref: 'pixel', ayref: 'pixel', text: '', showarrow: true,
  arrowhead: 2, arrowsize: 1, arrowwidth: 7, arrowcolor: color, standoff: 0
});
arrow('x3', 'y4', 46.07, 1.636, -60, -56, '#4a7ebb');
arrow('x4', 'y5', 46.07, 1.346, -60, -67, '#4a7ebb');
arrow('x5', 'y7', 51.84, 0.244, -61, -65, '#ff0000');

Plotly.newPlot('chart', traces, layout, { staticPlot: true, displayModeBar: false });
</script>
</body>
</html>
